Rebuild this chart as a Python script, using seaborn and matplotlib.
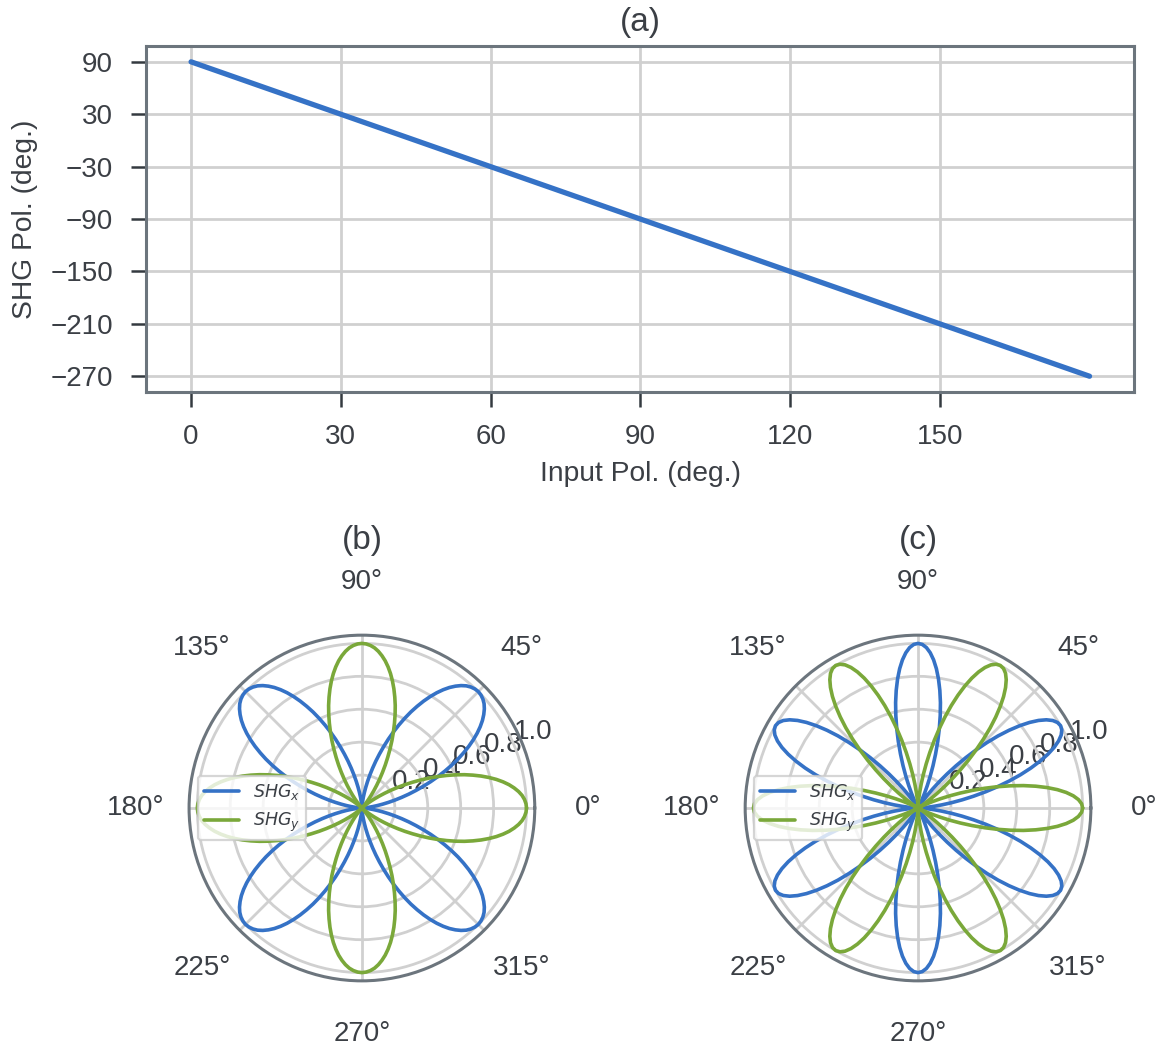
import numpy as np
import pandas as pd
import matplotlib
matplotlib.use("Agg")
import matplotlib.pyplot as plt
import seaborn as sns

# ---- data -------------------------------------------------------------
# (a) output SHG polarisation against input polarisation
input_pol = [0, 30, 60, 90, 120, 150, 180]
shg_pol = [90, 30, -30, -90, -150, -210, -270]
x_ticks = [0, 30, 60, 90, 120, 150]
y_ticks = [90, 30, -30, -90, -150, -210, -270]

# (b) normalised SHG intensity over one 90 deg period, 1.5 deg steps
period_b = 90
shg_x_b = [0.000, 0.003, 0.011, 0.024, 0.043, 0.067, 0.095, 0.128, 0.165, 0.206,
           0.250, 0.297, 0.345, 0.396, 0.448, 0.500, 0.552, 0.604, 0.655, 0.703,
           0.750, 0.794, 0.835, 0.872, 0.905, 0.933, 0.957, 0.976, 0.989, 0.997,
           1.000, 0.997, 0.989, 0.976, 0.957, 0.933, 0.905, 0.872, 0.835, 0.794,
           0.750, 0.703, 0.655, 0.604, 0.552, 0.500, 0.448, 0.396, 0.345, 0.297,
           0.250, 0.206, 0.165, 0.128, 0.095, 0.067, 0.043, 0.024, 0.011, 0.003]
shg_y_b = [1.000, 0.997, 0.989, 0.976, 0.957, 0.933, 0.905, 0.872, 0.835, 0.794,
           0.750, 0.703, 0.655, 0.604, 0.552, 0.500, 0.448, 0.396, 0.345, 0.297,
           0.250, 0.206, 0.165, 0.128, 0.095, 0.067, 0.043, 0.024, 0.011, 0.003,
           0.000, 0.003, 0.011, 0.024, 0.043, 0.067, 0.095, 0.128, 0.165, 0.206,
           0.250, 0.297, 0.345, 0.396, 0.448, 0.500, 0.552, 0.604, 0.655, 0.703,
           0.750, 0.794, 0.835, 0.872, 0.905, 0.933, 0.957, 0.976, 0.989, 0.997]

# (c) normalised SHG intensity over one 60 deg period, 1.5 deg steps
period_c = 60
shg_x_c = [0.000, 0.006, 0.024, 0.055, 0.095, 0.146, 0.206, 0.273, 0.345, 0.422,
           0.500, 0.578, 0.655, 0.727, 0.794, 0.854, 0.905, 0.946, 0.976, 0.994,
           1.000, 0.994, 0.976, 0.946, 0.905, 0.854, 0.794, 0.727, 0.655, 0.578,
           0.500, 0.422, 0.345, 0.273, 0.206, 0.146, 0.095, 0.055, 0.024, 0.006]
shg_y_c = [1.000, 0.994, 0.976, 0.946, 0.905, 0.854, 0.794, 0.727, 0.655, 0.578,
           0.500, 0.422, 0.345, 0.273, 0.206, 0.146, 0.095, 0.055, 0.024, 0.006,
           0.000, 0.006, 0.024, 0.055, 0.095, 0.146, 0.206, 0.273, 0.345, 0.422,
           0.500, 0.578, 0.655, 0.727, 0.794, 0.854, 0.905, 0.946, 0.976, 0.994]

series_names = ["$SHG_x$", "$SHG_y$"]
palette = ["#3572c6", "#7aa83a"]

# ---- style ------------------------------------------------------------
sns.set_theme(context="paper", style="ticks")
text_c = "#3b3f45"
spine_c = "#6c757d"
grid_c = "#d0d0d0"
plt.rcParams.update({
    "font.family": ["Liberation Sans", "DejaVu Sans"],
    "text.color": text_c,
    "axes.labelcolor": text_c,
    "xtick.color": "#343a40",
    "ytick.color": "#343a40",
    "xtick.labelcolor": text_c,
    "ytick.labelcolor": text_c,
    "axes.edgecolor": spine_c,
    "axes.linewidth": 1.1,
    "grid.color": grid_c,
    "grid.linewidth": 1.0,
    "xtick.labelsize": 10.0,
    "ytick.labelsize": 10.0,
    "axes.labelsize": 10.2,
    "axes.titlesize": 12.0,
    "xtick.major.size": 5.4,
    "ytick.major.size": 5.4,
    "xtick.major.width": 0.9,
    "ytick.major.width": 0.9,
    "xtick.major.pad": 6.0,
    "ytick.major.pad": 6.5,
    "mathtext.fontset": "dejavusans",
})


def polar_frame(values_x, values_y, period):
    """Repeat one sampled period round the full circle and close the loop."""
    n_rep = 360 // period
    step = period / len(values_x)
    theta_deg = np.arange(len(values_x) * n_rep + 1) * step
    rx = np.append(np.tile(values_x, n_rep), values_x[0])
    ry = np.append(np.tile(values_y, n_rep), values_y[0])
    th = np.deg2rad(theta_deg)
    return pd.DataFrame({
        "theta": np.concatenate([th, th]),
        "r": np.concatenate([rx, ry]),
        "series": [series_names[0]] * len(th) + [series_names[1]] * len(th),
    })


fig = plt.figure(figsize=(5.8, 5.24), dpi=200)

# ---- (a) -------------------------------------------------------------
ax_a = fig.add_axes([0.126, 0.626, 0.852, 0.330])
df_a = pd.DataFrame({"input": input_pol, "shg": shg_pol})
sns.lineplot(data=df_a, x="input", y="shg", ax=ax_a, color=palette[0], lw=1.9)
ax_a.set_xticks(x_ticks)
ax_a.set_yticks(y_ticks)
ax_a.grid(True)
ax_a.set_xlabel("Input Pol. (deg.)")
ax_a.set_ylabel("SHG Pol. (deg.)", labelpad=4.5)
ax_a.set_title("(a)", pad=5.3)

# ---- (b), (c) ---------------------------------------------------------
polar_specs = [
    ([0.163, 0.064, 0.298, 0.330], shg_x_b, shg_y_b, period_b, "(b)"),
    ([0.6424, 0.064, 0.298, 0.330], shg_x_c, shg_y_c, period_c, "(c)"),
]
for rect, vx, vy, period, title in polar_specs:
    ax = fig.add_axes(rect, projection="polar")
    df = polar_frame(vx, vy, period)
    sns.lineplot(data=df, x="theta", y="r", hue="series", palette=palette,
                 sort=False, estimator=None, lw=1.3, ax=ax)
    ax.grid(True, color=grid_c, lw=1.0)
    ax.spines["polar"].set_color(spine_c)
    ax.spines["polar"].set_linewidth(1.1)
    ax.set_xlabel("")
    ax.set_ylabel("")
    ax.tick_params(axis="x", pad=6.8)
    ax.set_title(title, pad=7.0)
    leg = ax.legend(loc="center left", fontsize=6.3, frameon=True,
                    framealpha=0.8, edgecolor="#cccccc", fancybox=True,
                    borderpad=0.35)
    leg.get_frame().set_linewidth(0.8)

fig.savefig("out.png", dpi=200)
